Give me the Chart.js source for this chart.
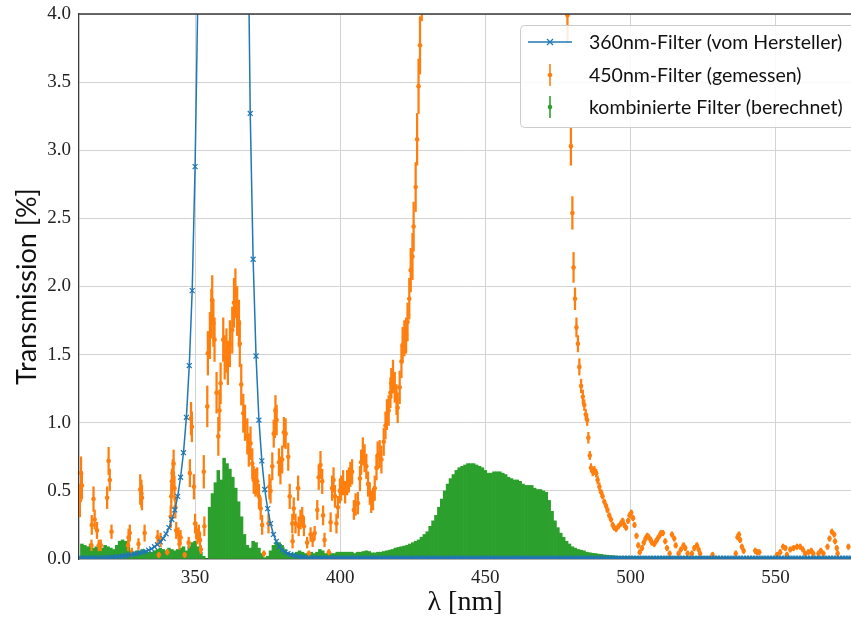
<!DOCTYPE html>
<html>
<head>
<meta charset="utf-8">
<title>Transmission der Filter</title>
<script src="https://cdn.jsdelivr.net/npm/chart.js@4/dist/chart.umd.min.js"></script>
<style>
  html, body { margin: 0; padding: 0; background: #fff; }
  canvas { display: block; }
</style>
</head>
<body>
<canvas id="chart1" width="851" height="620"></canvas>
<script>
"use strict"

// axis ticks
const xTicks = [350, 400, 450, 500, 550]
const yTicks = [0, 0.5, 1, 1.5, 2, 2.5, 3, 3.5, 4]

const seriesNames = [
    '360nm-Filter (vom Hersteller)',
    '450nm-Filter (gemessen)',
    'kombinierte Filter (berechnet)'
]

// 360nm filter, manufacturer table, 1 nm steps starting at 310 nm
const herstellerStart = 310
const herstellerWerte = [
    0.006, 0.006, 0.006, 0.006, 0.006, 0.006, 0.006, 0.007, 0.007, 0.008,
    0.009, 0.01, 0.012, 0.015, 0.018, 0.021, 0.024, 0.028, 0.032, 0.036,
    0.04, 0.045, 0.05, 0.056, 0.065, 0.075, 0.09, 0.105, 0.125, 0.15,
    0.185, 0.23, 0.29, 0.36, 0.46, 0.60, 0.78, 1.04, 1.42, 1.97,
    2.88, 4.2, 6.3, 9.5, 13.8, 18.5, 23, 26.5, 28.5, 29.5,
    30, 29.8, 29, 27, 24, 19.5, 14, 9.5, 5.1, 3.27,
    2.20, 1.49, 1.02, 0.72, 0.51, 0.37, 0.26, 0.18, 0.13, 0.09,
    0.065, 0.05, 0.04, 0.033, 0.027, 0.021, 0.016, 0.012, 0.009, 0.007,
    0.006, 0.006, 0.006, 0.006, 0.006, 0.006, 0.006, 0.006, 0.006, 0.006,
    0.006, 0.006, 0.006, 0.006, 0.006, 0.006, 0.006, 0.006, 0.006, 0.006,
    0.006, 0.006, 0.006, 0.006, 0.006, 0.006, 0.006, 0.006, 0.006, 0.006,
    0.006, 0.006, 0.006, 0.006, 0.006, 0.006, 0.006, 0.006, 0.006, 0.006,
    0.006, 0.006, 0.006, 0.006, 0.006, 0.006, 0.006, 0.006, 0.006, 0.006,
    0.006, 0.006, 0.006, 0.006, 0.006, 0.006, 0.006, 0.006, 0.006, 0.006,
    0.006, 0.006, 0.006, 0.006, 0.006, 0.006, 0.006, 0.006, 0.006, 0.006,
    0.006, 0.006, 0.006, 0.006, 0.006, 0.006, 0.006, 0.006, 0.006, 0.006,
    0.006, 0.006, 0.006, 0.006, 0.006, 0.006, 0.006, 0.006, 0.006, 0.006,
    0.006, 0.006, 0.006, 0.006, 0.006, 0.006, 0.006, 0.006, 0.006, 0.006,
    0.006, 0.006, 0.006, 0.006, 0.006, 0.006, 0.006, 0.006, 0.006, 0.006,
    0.006, 0.006, 0.006, 0.006, 0.006, 0.006, 0.006, 0.006, 0.006, 0.006,
    0.006, 0.006, 0.006, 0.006, 0.006, 0.006, 0.006, 0.006, 0.006, 0.006,
    0.006, 0.006, 0.006, 0.006, 0.006, 0.006, 0.006, 0.006, 0.006, 0.006,
    0.006, 0.006, 0.006, 0.006, 0.006, 0.006, 0.006, 0.006, 0.006, 0.006,
    0.006, 0.006, 0.006, 0.006, 0.006, 0.006, 0.006, 0.006, 0.006, 0.006,
    0.006, 0.006, 0.006, 0.006, 0.006, 0.006, 0.006, 0.006, 0.006, 0.006,
    0.006, 0.006, 0.006, 0.006, 0.006, 0.006, 0.006, 0.006, 0.006, 0.006,
    0.006, 0.006, 0.006, 0.006, 0.006, 0.006, 0.006
]

// 450nm filter, measured: wavelength [nm], transmission [%], error [%]
const gemessenLambda = [
    310.3, 310.7, 311.0, 314.3, 314.4, 315.0, 315.4, 316.2, 316.8, 317.5,
    319.7, 320.2, 320.6, 321.2, 326.9, 327.1, 327.5, 328.2, 330.5, 331.1,
    331.5, 331.7, 332.6, 337.1, 337.5, 338.1, 340.4, 341.6, 341.8, 342.0,
    342.3, 342.6, 342.9, 343.2, 343.5, 344.3, 344.6, 345.0, 346.4, 347.8,
    348.2, 348.6, 348.9, 349.6, 350.0, 350.4, 350.8, 351.3, 351.7, 352.0,
    353.0, 353.2, 354.2, 354.4, 355.1, 355.6, 355.9, 356.3, 356.7, 357.4,
    358.0, 358.4, 358.8, 359.7, 360.2, 360.8, 361.3, 362.0, 362.8, 363.4,
    363.9, 364.5, 365.1, 365.4, 365.9, 366.6, 367.2, 368.0, 368.5, 369.1,
    369.7, 370.2, 370.8, 371.4, 372.0, 372.6, 373.1, 373.7, 375.3, 375.6,
    376.0, 376.6, 377.1, 377.5, 377.7, 378.1, 378.9, 379.4, 380.0, 380.6,
    381.2, 382.1, 382.6, 383.5, 383.6, 384.0, 384.6, 385.5, 385.7, 386.3,
    386.9, 387.5, 388.6, 389.2, 389.8, 390.5, 391.2, 392.1, 392.6, 393.2,
    393.8, 394.1, 394.6, 396.1, 396.7, 397.2, 397.7, 398.2, 398.7, 399.2,
    399.9, 400.3, 401.0, 401.7, 402.4, 403.0, 403.5, 404.1, 404.7, 405.3,
    406.1, 406.8, 407.2, 407.8, 408.4, 409.0, 409.6, 410.2, 410.7, 411.3,
    411.9, 412.5, 412.9, 413.6, 414.2, 415.0, 415.6, 416.1, 416.7, 417.3,
    417.6, 418.2, 418.8, 419.4, 419.8, 420.5, 421.1, 421.5, 422.1, 422.7,
    423.2, 423.8, 424.3, 424.9, 425.3, 426.0, 426.5, 427.0, 427.5, 428.1,
    432.0, 438.0, 445.0, 452.0, 460.0, 468.0, 474.0, 478.3, 479.5, 480.0,
    480.4, 480.9, 481.4, 481.9, 482.4, 483.0, 483.6, 484.1, 484.6, 485.1,
    485.5, 486.0, 486.4, 487.0, 487.6, 488.2, 488.7, 489.3, 489.9, 490.4,
    491.0, 491.6, 492.1, 492.7, 493.3, 493.9, 494.4, 495.1, 495.9, 496.7,
    497.3, 497.9, 498.5, 499.2, 499.7, 500.3, 500.9, 501.4, 502.1, 502.7,
    503.2, 504.0, 504.6, 505.2, 505.8, 506.3, 507.0, 507.4, 508.2, 508.8,
    509.4, 510.0, 510.5, 511.2, 512.0, 512.6, 513.5, 514.3, 515.1, 515.6,
    516.6, 517.4, 518.3, 518.9, 519.7, 521.2, 522.0, 522.9, 523.5, 524.0,
    528.3, 536.3, 536.9, 537.4, 537.8, 538.4, 539.0, 543.0, 543.6, 544.4,
    550.5, 551.6, 552.6, 553.4, 553.9, 555.1, 556.2, 557.4, 558.5, 559.4,
    560.2, 561.3, 562.3, 563.0, 564.8, 565.6, 566.5, 567.9, 568.6, 569.4,
    570.2, 570.5, 571.1, 571.4, 575.1
]
const gemessenWerte = [
    0.43, 0.63, 0.54, 0.10, 0.25, 0.44, 0.29, 0.21, 0.10, 0.10,
    0.45, 0.72, 0.58, 0.20, 0.10, 0.16, 0.19, 0.05, 0.11, 0.51,
    0.48, 0.45, 0.19, 0.16, 0.03, 0.14, 0.05, 0.31, 0.46, 0.57,
    0.63, 0.70, 0.52, 0.38, 0.21, 0.18, 0.11, 0.16, 0.03, 0.12,
    0.63, 1.03, 0.97, 0.53, 0.26, 0.21, 0.16, 0.19, 0.14, 0.07,
    0.64, 0.24, 1.12, 1.51, 1.64, 1.80, 1.90, 1.73, 1.61, 1.22,
    0.90, 1.09, 1.29, 1.61, 1.48, 1.53, 1.44, 1.58, 1.68, 1.88,
    1.95, 1.82, 1.73, 1.58, 1.28, 1.07, 1.00, 0.90, 0.80, 0.85,
    0.70, 0.58, 0.56, 0.57, 0.46, 0.37, 0.25, 0.04, 0.26, 0.53,
    0.50, 0.68, 0.92, 1.00, 1.09, 1.02, 0.71, 0.65, 0.73, 0.93,
    0.92, 0.75, 0.46, 0.26, 0.13, 0.37, 0.26, 0.52, 0.24, 0.29,
    0.31, 0.24, 0.12, 0.04, 0.18, 0.14, 0.19, 0.36, 0.60, 0.69,
    0.57, 0.32, 0.14, 0.05, 0.27, 0.52, 0.58, 0.46, 0.26, 0.38,
    0.50, 0.52, 0.56, 0.49, 0.56, 0.58, 0.62, 0.64, 0.36, 0.40,
    0.41, 0.59, 0.71, 0.79, 0.74, 0.68, 0.55, 0.48, 0.42, 0.44,
    0.52, 0.67, 0.76, 0.77, 0.73, 0.86, 0.98, 1.06, 1.09, 1.22,
    1.29, 1.34, 1.26, 1.17, 1.11, 1.26, 1.45, 1.57, 1.62, 1.64,
    1.74, 1.91, 2.12, 2.22, 2.44, 2.73, 3.08, 3.47, 3.77, 4.25,
    9.5, 21, 29, 31, 28, 21, 10, 3.99, 3.03, 2.54,
    2.14, 1.91, 1.70, 1.58, 1.41, 1.27, 1.19, 1.13, 1.06, 1.02,
    0.89, 0.76, 0.67, 0.64, 0.65, 0.63, 0.58, 0.53, 0.49, 0.46,
    0.42, 0.39, 0.36, 0.32, 0.29, 0.25, 0.23, 0.22, 0.24, 0.26,
    0.28, 0.25, 0.23, 0.28, 0.32, 0.34, 0.30, 0.25, 0.17, 0.10,
    0.05, 0.08, 0.12, 0.15, 0.17, 0.16, 0.14, 0.12, 0.11, 0.13,
    0.15, 0.17, 0.19, 0.19, 0.13, 0.08, 0.04, 0.18, 0.15, 0.10,
    0.04, 0.07, 0.10, 0.08, 0.04, 0.04, 0.08, 0.10, 0.07, 0.04,
    0.03, 0.04, 0.16, 0.18, 0.14, 0.09, 0.06, 0.06, 0.05, 0.05,
    0.03, 0.05, 0.09, 0.08, 0.03, 0.07, 0.08, 0.09, 0.09, 0.07,
    0.04, 0.05, 0.06, 0.04, 0.04, 0.06, 0.04, 0.09, 0.15, 0.20,
    0.18, 0.13, 0.08, 0.04, 0.09
]
const gemessenFehler = [
    0.12, 0.12, 0.10, 0.04, 0.07, 0.09, 0.07, 0.06, 0.04, 0.04,
    0.08, 0.10, 0.08, 0.05, 0.04, 0.06, 0.06, 0.03, 0.04, 0.11,
    0.10, 0.09, 0.06, 0.05, 0.02, 0.05, 0.02, 0.08, 0.09, 0.09,
    0.10, 0.10, 0.09, 0.08, 0.06, 0.05, 0.04, 0.05, 0.02, 0.04,
    0.10, 0.12, 0.11, 0.09, 0.07, 0.06, 0.05, 0.06, 0.05, 0.03,
    0.12, 0.07, 0.15, 0.16, 0.17, 0.18, 0.18, 0.17, 0.16, 0.15,
    0.14, 0.15, 0.15, 0.16, 0.16, 0.16, 0.16, 0.17, 0.17, 0.18,
    0.18, 0.18, 0.17, 0.17, 0.15, 0.14, 0.13, 0.13, 0.12, 0.12,
    0.11, 0.10, 0.10, 0.10, 0.09, 0.08, 0.07, 0.02, 0.07, 0.09,
    0.09, 0.10, 0.10, 0.11, 0.11, 0.11, 0.10, 0.10, 0.10, 0.11,
    0.11, 0.10, 0.09, 0.07, 0.05, 0.08, 0.07, 0.09, 0.07, 0.07,
    0.07, 0.07, 0.04, 0.02, 0.05, 0.05, 0.05, 0.07, 0.09, 0.10,
    0.09, 0.07, 0.05, 0.02, 0.07, 0.09, 0.09, 0.08, 0.07, 0.08,
    0.09, 0.09, 0.09, 0.08, 0.09, 0.09, 0.09, 0.09, 0.07, 0.08,
    0.08, 0.09, 0.09, 0.10, 0.10, 0.09, 0.09, 0.08, 0.08, 0.08,
    0.09, 0.09, 0.10, 0.10, 0.10, 0.10, 0.10, 0.11, 0.11, 0.11,
    0.11, 0.12, 0.11, 0.11, 0.11, 0.12, 0.12, 0.13, 0.13, 0.13,
    0.14, 0.15, 0.16, 0.17, 0.18, 0.18, 0.19, 0.20, 0.21, 0.30,
    0.5, 0.8, 1.0, 1.0, 1.0, 0.8, 0.5, 0.20, 0.14, 0.12,
    0.11, 0.08, 0.07, 0.06, 0.06, 0.05, 0.05, 0.04, 0.04, 0.04,
    0.04, 0.03, 0.03, 0.03, 0.03, 0.03, 0.03, 0.03, 0.02, 0.02,
    0.02, 0.02, 0.02, 0.02, 0.02, 0.02, 0.02, 0.02, 0.02, 0.02,
    0.02, 0.02, 0.02, 0.02, 0.02, 0.02, 0.02, 0.02, 0.02, 0.02,
    0.02, 0.02, 0.02, 0.02, 0.02, 0.02, 0.02, 0.02, 0.02, 0.02,
    0.02, 0.02, 0.02, 0.02, 0.02, 0.02, 0.02, 0.02, 0.02, 0.02,
    0.02, 0.02, 0.02, 0.02, 0.02, 0.02, 0.02, 0.02, 0.02, 0.02,
    0.02, 0.02, 0.02, 0.02, 0.02, 0.02, 0.02, 0.02, 0.02, 0.02,
    0.02, 0.02, 0.02, 0.02, 0.02, 0.02, 0.02, 0.02, 0.02, 0.02,
    0.02, 0.02, 0.02, 0.02, 0.02, 0.02, 0.02, 0.02, 0.02, 0.02,
    0.02, 0.02, 0.02, 0.02, 0.02
]

// combined filters, 1 nm steps from 310 nm: upper end of each error bar
const kombiStart = 310
const kombiOben = [
    0.11, 0.10, 0.09, 0.11, 0.08, 0.09, 0.07, 0.08, 0.10, 0.09,
    0.08, 0.07, 0.10, 0.13, 0.14, 0.13, 0.09, 0.06, 0.05, 0.06,
    0.06, 0.07, 0.05, 0.05, 0.05, 0.06, 0.07, 0.08, 0.07, 0.06,
    0.08, 0.07, 0.06, 0.07, 0.08, 0.09, 0.06, 0.09, 0.12, 0.13,
    0.09, 0.05, 0.02, 0.00, 0.38, 0.48, 0.56, 0.65, 0.58, 0.74,
    0.70, 0.66, 0.60, 0.52, 0.42, 0.31, 0.18, 0.10, 0.08, 0.13,
    0.12, 0.08, 0.04, 0.01, 0.02, 0.06, 0.10, 0.12, 0.12, 0.10,
    0.07, 0.05, 0.04, 0.04, 0.05, 0.06, 0.05, 0.04, 0.04, 0.05,
    0.04, 0.05, 0.07, 0.06, 0.04, 0.04, 0.04, 0.04, 0.05, 0.05,
    0.05, 0.05, 0.05, 0.05, 0.04, 0.05, 0.05, 0.055, 0.06, 0.055,
    0.045, 0.045, 0.05, 0.05, 0.055, 0.06, 0.065, 0.07, 0.08, 0.085,
    0.09, 0.095, 0.10, 0.11, 0.12, 0.13, 0.14, 0.16, 0.18, 0.20,
    0.24, 0.28, 0.32, 0.38, 0.44, 0.50, 0.55, 0.59, 0.62, 0.65,
    0.67, 0.68, 0.69, 0.70, 0.70, 0.70, 0.69, 0.68, 0.67, 0.65,
    0.63, 0.63, 0.64, 0.64, 0.64, 0.63, 0.62, 0.60, 0.59, 0.58,
    0.58, 0.57, 0.55, 0.54, 0.54, 0.54, 0.52, 0.51, 0.51, 0.50,
    0.49, 0.43, 0.35, 0.28, 0.23, 0.19, 0.16, 0.13, 0.11, 0.09,
    0.08, 0.07, 0.065, 0.06, 0.05, 0.046, 0.042, 0.04, 0.036, 0.034,
    0.03, 0.028, 0.026, 0.025, 0.022, 0.02, 0.02, 0.02, 0.02, 0.02,
    0.018, 0.018, 0.018, 0.018, 0.018, 0.018, 0.018, 0.018, 0.018, 0.018,
    0.018, 0.018, 0.018, 0.018, 0.018, 0.018, 0.018, 0.018, 0.018, 0.018,
    0.018, 0.018, 0.018, 0.018, 0.018, 0.018, 0.018, 0.018, 0.018, 0.018,
    0.015, 0.015, 0.015, 0.015, 0.015, 0.015, 0.015, 0.015, 0.015, 0.015,
    0.015, 0.015, 0.015, 0.015, 0.015, 0.015, 0.015, 0.015, 0.015, 0.015,
    0.015, 0.015, 0.015, 0.015, 0.015, 0.015, 0.015, 0.015, 0.015, 0.015,
    0.015, 0.015, 0.015, 0.015, 0.015, 0.015, 0.015, 0.015, 0.015, 0.015,
    0.015, 0.015, 0.015, 0.015, 0.015, 0.015, 0.015
]

const blau = '#1f77b4'
const orange = '#ff7f0e'
const gruen = '#2ca02c'

const xMin = 310
const xMax = 576

// build point lists for the datasets
let hersteller = herstellerWerte.map((v, i) => ({x: herstellerStart + i, y: v}))
let gemessen = gemessenLambda.map((l, i) => ({x: l, y: gemessenWerte[i]}))
let fehlerbalken = gemessenLambda.map((l, i) => ({
    x: l,
    y: [gemessenWerte[i] - gemessenFehler[i], gemessenWerte[i] + gemessenFehler[i]]
}))
let kombi = kombiOben.map((v, i) => ({x: kombiStart + i, y: v}))

// top spine of the axes box
const topSpine = {
    id: 'topSpine',
    afterDatasetsDraw(chart) {
        const {ctx, chartArea} = chart
        ctx.save()
        ctx.strokeStyle = '#3a3a3a'
        ctx.lineWidth = 1.3
        ctx.beginPath()
        ctx.moveTo(chartArea.left, chartArea.top)
        ctx.lineTo(chartArea.right, chartArea.top)
        ctx.stroke()
        ctx.restore()
    }
}

// legend box in the upper right corner, drawn over the data
const legendBox = {
    id: 'legendBox',
    afterDraw(chart) {
        const ctx = chart.ctx
        ctx.save()
        ctx.beginPath()
        if (ctx.roundRect) ctx.roundRect(520.5, 25.5, 345, 102, 4)
        else ctx.rect(520.5, 25.5, 345, 102)
        ctx.fillStyle = 'rgba(255,255,255,0.85)'
        ctx.fill()
        ctx.strokeStyle = '#cccccc'
        ctx.lineWidth = 1
        ctx.stroke()

        const rows = [42, 75, 107]
        const hx = 550

        // line with cross marker
        ctx.strokeStyle = blau
        ctx.lineWidth = 1.5
        ctx.beginPath()
        ctx.moveTo(528, rows[0])
        ctx.lineTo(572, rows[0])
        ctx.stroke()
        ctx.lineWidth = 1.2
        ctx.beginPath()
        ctx.moveTo(hx - 3, rows[0] - 3)
        ctx.lineTo(hx + 3, rows[0] + 3)
        ctx.moveTo(hx - 3, rows[0] + 3)
        ctx.lineTo(hx + 3, rows[0] - 3)
        ctx.stroke()

        // error bar handles
        ;[[orange, rows[1]], [gruen, rows[2]]].forEach(([c, y]) => {
            ctx.strokeStyle = c
            ctx.fillStyle = c
            ctx.lineWidth = 1.6
            ctx.beginPath()
            ctx.moveTo(hx, y - 11)
            ctx.lineTo(hx, y + 11)
            ctx.stroke()
            ctx.beginPath()
            ctx.arc(hx, y, 2.3, 0, Math.PI * 2)
            ctx.fill()
        })

        ctx.fillStyle = '#111'
        ctx.font = '19.5px Lato'
        ctx.textBaseline = 'middle'
        seriesNames.forEach((name, i) => ctx.fillText(name, 589, rows[i] + 1))
        ctx.restore()
    }
}

const hiddenX = {
    type: 'linear',
    axis: 'x',
    display: false,
    min: xMin,
    max: xMax,
    offset: false,
    grid: {offset: false}
}

const ctx = document.getElementById('chart1')

let myChart = new Chart(ctx, {
    type: 'scatter',
    data: {
        datasets: [
            {
                label: seriesNames[0],
                data: hersteller,
                showLine: true,
                borderColor: blau,
                borderWidth: 1.5,
                pointStyle: 'crossRot',
                pointRadius: 3.5,
                pointBorderWidth: 1.2,
                pointBorderColor: blau,
                pointBackgroundColor: blau,
                clip: 0
            },
            {
                label: seriesNames[1],
                data: gemessen,
                pointRadius: 2.3,
                pointBorderWidth: 0,
                pointBackgroundColor: orange,
                clip: 0
            },
            {
                type: 'bar',
                label: seriesNames[1] + ' Fehler',
                data: fehlerbalken,
                xAxisID: 'xe',
                backgroundColor: orange,
                borderWidth: 0,
                barThickness: 1.6,
                clip: 0
            },
            {
                type: 'bar',
                label: seriesNames[2],
                data: kombi,
                xAxisID: 'xg',
                backgroundColor: gruen,
                borderWidth: 0,
                barThickness: 2.9,
                clip: 0
            }
        ]
    },
    options: {
        responsive: false,
        animation: false,
        events: [],
        layout: {autoPadding: false, padding: {top: 14, right: 0, bottom: 0, left: 0}},
        plugins: {
            legend: {display: false},
            tooltip: {enabled: false}
        },
        scales: {
            x: {
                type: 'linear',
                min: xMin,
                max: xMax,
                offset: false,
                afterBuildTicks: s => { s.ticks = xTicks.map(v => ({value: v})) },
                afterFit: s => { s.height = 61; s.paddingLeft = 0; s.paddingRight = 0 },
                grid: {color: '#d3d3d3', lineWidth: 1, drawTicks: false, offset: false},
                border: {display: true, color: '#3a3a3a', width: 1.3},
                ticks: {
                    font: {family: 'Liberation Serif', size: 19},
                    color: '#222',
                    padding: 8,
                    maxRotation: 0,
                    callback: v => String(v)
                },
                title: {
                    display: true,
                    text: 'λ [nm]',
                    font: {family: 'Liberation Serif', size: 28},
                    color: '#111',
                    padding: {top: 0, bottom: 1}
                }
            },
            xe: {...hiddenX},
            xg: {...hiddenX},
            y: {
                type: 'linear',
                min: 0,
                max: 4,
                afterBuildTicks: s => { s.ticks = yTicks.map(v => ({value: v})) },
                afterFit: s => { s.width = 79; s.paddingTop = 0; s.paddingBottom = 0 },
                grid: {color: '#d3d3d3', lineWidth: 1, drawTicks: false},
                border: {display: true, color: '#3a3a3a', width: 1.3},
                ticks: {
                    font: {family: 'Liberation Serif', size: 19},
                    color: '#222',
                    padding: 8,
                    callback: v => v.toFixed(1)
                },
                title: {
                    display: true,
                    text: 'Transmission [%]',
                    font: {family: 'Lato', size: 27},
                    color: '#111',
                    padding: {top: 11, bottom: 0}
                }
            }
        }
    },
    plugins: [topSpine, legendBox]
})
</script>
</body>
</html>
